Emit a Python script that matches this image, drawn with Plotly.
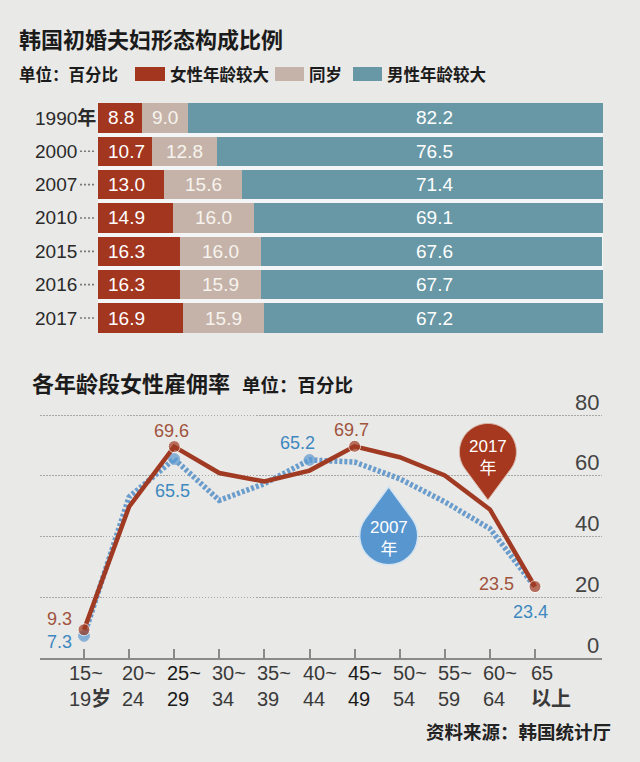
import math
import plotly.graph_objects as go

# ---------------- data ----------------
years = ["1990", "2000", "2007", "2010", "2015", "2016", "2017"]
wife_older = [8.8, 10.7, 13.0, 14.9, 16.3, 16.3, 16.9]
same_age = [9.0, 12.8, 15.6, 16.0, 16.0, 15.9, 15.9]
husband_older = [82.2, 76.5, 71.4, 69.1, 67.6, 67.7, 67.2]
bar_series = ["女性年龄较大", "同岁", "男性年龄较大"]

age_top = ["15~", "20~", "25~", "30~", "35~", "40~", "45~", "50~", "55~", "60~", "65"]
age_bottom = ["19<b>岁</b>", "24", "29", "34", "39", "44", "49", "54", "59", "64", "<b>以上</b>"]
rate_2017 = [9.3, 49.8, 69.6, 60.9, 58.1, 61.7, 69.7, 66.1, 60.1, 48.9, 23.5]
rate_2007 = [7.3, 53.0, 65.5, 51.9, 57.4, 65.2, 64.5, 59.0, 51.4, 42.6, 23.4]
y_ticks = [0, 20, 40, 60, 80]

# ---------------- styles ----------------
W, H = 640, 762
BG = "#e9e9e7"
RED = "#a3361f"
BEIGE = "#c5b3a9"
TEAL = "#6898a6"
LRED = "#a03a22"
LBLUE = "#6a9ccc"
MBLUE = "#5b9ad3"
TRED = "#a0533d"
TBLUE = "#3d88bf"
CJK = "Noto Sans CJK SC"
NUM = "Liberation Sans, Arial, Noto Sans CJK SC, sans-serif"

ROW_TOP, ROW_PITCH = 101.3, 33.34


def PX(x):
    return x / W


def PY(y):
    return 1 - y / H


def row_center(i):
    return ROW_TOP + ROW_PITCH * (i + 0.5)


fig = go.Figure()

# ---------------- stacked bars ----------------
for vals, col, name in zip([wife_older, same_age, husband_older], [RED, BEIGE, TEAL], bar_series):
    fig.add_trace(go.Bar(
        y=years, x=vals, orientation="h", name=name,
        marker=dict(color=col, line=dict(width=0)),
        xaxis="x", yaxis="y", showlegend=False, hoverinfo="x+name",
    ))

# ---------------- lines ----------------
idx = list(range(len(age_top)))
red_marks = [0, 2, 6, 10]
blue_marks = [0, 2, 5]
fig.add_trace(go.Scatter(
    x=idx, y=rate_2007, mode="lines+markers", name="2007年",
    line=dict(color=LBLUE, width=5.5, dash="3px,2px"),
    marker=dict(color=MBLUE, size=[11 if i in blue_marks else 0 for i in idx]),
    xaxis="x2", yaxis="y2", showlegend=False, cliponaxis=False,
))
fig.add_trace(go.Scatter(
    x=idx, y=rate_2017, mode="lines+markers", name="2017年",
    line=dict(color=LRED, width=4.5),
    marker=dict(color=LRED, size=[12 if i in red_marks else 0 for i in idx]),
    xaxis="x2", yaxis="y2", showlegend=False, cliponaxis=False,
))

ann = []
shapes = []

# titles and legend
ann.append(dict(x=PX(17), y=PY(38), xref="paper", yref="paper", xanchor="left", yanchor="middle",
                text="<b>韩国初婚夫妇形态构成比例</b>", showarrow=False,
                font=dict(family=CJK, size=22, color="#1b1b1b")))
ann.append(dict(x=PX(17), y=PY(74.5), xref="paper", yref="paper", xanchor="left", yanchor="middle",
                text="<b>单位：百分比</b>", showarrow=False,
                font=dict(family=CJK, size=16.5, color="#1b1b1b")))
for (sx0, sx1, tx), col, name in zip([(135, 165, 168), (275, 304, 307), (353, 382, 385)],
                                     [RED, BEIGE, TEAL], bar_series):
    shapes.append(dict(type="rect", xref="paper", yref="paper", x0=PX(sx0), x1=PX(sx1),
                       y0=PY(81), y1=PY(67), fillcolor=col, line=dict(width=0)))
    ann.append(dict(x=PX(tx), y=PY(74.5), xref="paper", yref="paper", xanchor="left", yanchor="middle",
                    text="<b>" + name + "</b>", showarrow=False,
                    font=dict(family=CJK, size=16.5, color="#1b1b1b")))

# white panel behind bars
shapes.append(dict(type="rect", xref="paper", yref="paper", x0=PX(98), x1=PX(603),
                   y0=PY(row_center(len(years) - 1) + 14.7), y1=PY(row_center(0) - 14.7),
                   fillcolor="#f3f5f6", line=dict(width=0), layer="below"))

# year labels and leader dots
for i, yr in enumerate(years):
    txt = yr + "<b>年</b>" if i == 0 else yr
    ann.append(dict(x=PX(33), y=PY(row_center(i)), xref="paper", yref="paper", xanchor="left",
                    yanchor="middle", text=txt, showarrow=False,
                    font=dict(family=NUM, size=19, color="#2a2a2a")))
    if i > 0:
        shapes.append(dict(type="line", xref="paper", yref="paper", x0=PX(80), x1=PX(96),
                           y0=PY(row_center(i)), y1=PY(row_center(i)),
                           line=dict(color="#7a7a7a", width=1.6, dash="2px,2px")))

# bar value labels
TEAL_LABEL_X = 66.7
for i, (yr, a, b, c) in enumerate(zip(years, wife_older, same_age, husband_older)):
    yc = PY(row_center(i))
    ann.append(dict(x=0, y=yc, xref="x", yref="paper", xanchor="left", yanchor="middle", xshift=8,
                    text=f"{a:.1f}", showarrow=False, font=dict(family=NUM, size=19, color="white")))
    ann.append(dict(x=a + b / 2, y=yc, xref="x", yref="paper", xanchor="center", yanchor="middle",
                    text=f"{b:.1f}", showarrow=False, font=dict(family=NUM, size=19, color="#f7f3ee")))
    ann.append(dict(x=TEAL_LABEL_X, y=yc, xref="x", yref="paper", xanchor="center", yanchor="middle",
                    text=f"{c:.1f}", showarrow=False, font=dict(family=NUM, size=19, color="white")))

# bottom chart title
ann.append(dict(x=PX(30), y=PY(382), xref="paper", yref="paper", xanchor="left", yanchor="middle",
                text="<b>各年龄段女性雇佣率</b>", showarrow=False,
                font=dict(family=CJK, size=22, color="#1b1b1b")))
ann.append(dict(x=PX(240), y=PY(384.5), xref="paper", yref="paper", xanchor="left", yanchor="middle",
                text="<b>单位：百分比</b>", showarrow=False,
                font=dict(family=CJK, size=18.5, color="#1b1b1b")))

# x tick labels (left aligned blocks)
for i, (t, b) in enumerate(zip(age_top, age_bottom)):
    shift = -17 if i == 0 else (-6 if i == len(age_top) - 1 else -9)
    dark = i in (2, 6)
    ann.append(dict(x=i, y=PY(660), xref="x2", yref="paper", xanchor="left", yanchor="top",
                    xshift=shift, align="left", text=t + "<br>" + b, showarrow=False,
                    font=dict(family=NUM, size=20, color="#1a1a1a" if dark else "#3a3a3a")))

# y tick labels (right, above gridlines)
for v in y_ticks:
    ann.append(dict(x=PX(601), y=v, xref="paper", yref="y2", xanchor="right", yanchor="middle",
                    yshift=13, text=str(v), showarrow=False,
                    font=dict(family=NUM, size=22, color="#444444")))


# value labels
def vlabel(i, series, color, dx, dy):
    ann.append(dict(x=i, y=series[i], xref="x2", yref="y2", xanchor="center", yanchor="middle",
                    xshift=dx, yshift=dy, text=f"{series[i]:.1f}", showarrow=False,
                    font=dict(family=NUM, size=18, color=color)))


vlabel(2, rate_2017, TRED, -3, 16)
vlabel(6, rate_2017, TRED, -3.5, 16)
vlabel(0, rate_2017, TRED, -24.5, 11)
vlabel(10, rate_2017, TRED, -39, 3)
vlabel(2, rate_2007, TBLUE, -1.5, -31.5)
vlabel(5, rate_2007, TBLUE, -12, 17)
vlabel(0, rate_2007, TBLUE, -24.5, -6)
vlabel(10, rate_2007, TBLUE, -4.5, -25.5)


# callout pins
def teardrop(r, d, s, ox=0.0, oy=0.0):
    """Tip at (ox, oy) in pixel offsets; circle centre at distance d above (s=1) or below (s=-1)."""
    a = math.degrees(math.asin(r / d))
    cx, cy = ox, oy + s * d
    start = 180 + s * a
    sweep = -s * (180 + 2 * a)
    n = 6
    dth = sweep / n
    k = 4 / 3 * math.tan(math.radians(dth) / 4)
    th1 = math.radians(start)
    p0 = (cx + r * math.cos(th1), cy + r * math.sin(th1))
    path = f"M {ox:.2f},{oy:.2f} L {p0[0]:.2f},{p0[1]:.2f}"
    for j in range(n):
        t1 = math.radians(start + j * dth)
        t2 = math.radians(start + (j + 1) * dth)
        P0 = (cx + r * math.cos(t1), cy + r * math.sin(t1))
        P3 = (cx + r * math.cos(t2), cy + r * math.sin(t2))
        P1 = (P0[0] - k * r * math.sin(t1), P0[1] + k * r * math.cos(t1))
        P2 = (P3[0] + k * r * math.sin(t2), P3[1] - k * r * math.cos(t2))
        path += f" C {P1[0]:.2f},{P1[1]:.2f} {P2[0]:.2f},{P2[1]:.2f} {P3[0]:.2f},{P3[1]:.2f}"
    path += f" L {ox:.2f},{oy:.2f} Z"
    return path


# 2017 pin: tip just above the 60-64 point
shapes.append(dict(type="path", xref="x2", yref="y2", xsizemode="pixel", ysizemode="pixel",
                   xanchor=9, yanchor=rate_2017[9], path=teardrop(28.5, 48, 1, -2, 9.5),
                   fillcolor="#a5381e", line=dict(color="#d9b8ab", width=1)))
ann.append(dict(x=9, y=rate_2017[9], xref="x2", yref="y2", xanchor="center", yanchor="middle",
                xshift=-1.5, yshift=52, text="2017<br>年", showarrow=False,
                font=dict(family=NUM, size=17, color="white")))
# 2007 drop: tip just below the 2007 line near 50-54
shapes.append(dict(type="path", xref="x2", yref="y2", xsizemode="pixel", ysizemode="pixel",
                   xanchor=7, yanchor=rate_2007[7], path=teardrop(29, 49, -1, -11, -8),
                   fillcolor="#5896cf", line=dict(color="#d3e3f1", width=1.5)))
ann.append(dict(x=7, y=rate_2007[7], xref="x2", yref="y2", xanchor="center", yanchor="middle",
                xshift=-11, yshift=-59.5, text="2007<br>年", showarrow=False,
                font=dict(family=NUM, size=17, color="white")))

# source
ann.append(dict(x=PX(613), y=PY(731), xref="paper", yref="paper", xanchor="right", yanchor="middle",
                text="<b>资料来源：韩国统计厅</b>", showarrow=False,
                font=dict(family=CJK, size=18.5, color="#222222")))

X2_LEFT, X2_RIGHT, X2_ZERO, X2_STEP = 40, 602, 84, 45.1
Y2_ZERO, Y2_SCALE, Y2_MAX = 658, 3.0375, 81

fig.update_layout(
    width=W, height=H, autosize=False,
    margin=dict(l=0, r=0, t=0, b=0),
    paper_bgcolor=BG, plot_bgcolor="rgba(0,0,0,0)",
    barmode="stack", bargap=0.12,
    showlegend=False,
    xaxis=dict(domain=[PX(98), PX(603)], range=[0, 100], visible=False, fixedrange=True),
    yaxis=dict(domain=[PY(ROW_TOP + ROW_PITCH * len(years)), PY(ROW_TOP)],
               range=[len(years) - 0.5, -0.5], type="category",
               visible=False, fixedrange=True),
    xaxis2=dict(domain=[PX(X2_LEFT), PX(X2_RIGHT)],
                range=[-(X2_ZERO - X2_LEFT) / X2_STEP, (X2_RIGHT - X2_ZERO) / X2_STEP],
                anchor="y2", showline=True, linecolor="#8a8a8a", linewidth=2,
                ticks="inside", ticklen=9, tickwidth=1.5, tickcolor="#8a8a8a",
                tickvals=idx, showticklabels=False, showgrid=False, zeroline=False),
    yaxis2=dict(domain=[PY(Y2_ZERO), PY(Y2_ZERO - Y2_MAX * Y2_SCALE)], range=[0, Y2_MAX], anchor="x2",
                tickvals=y_ticks[1:], showticklabels=False, showgrid=True,
                gridcolor="#a8a8a8", gridwidth=1.2, griddash="1.5px,1.5px",
                zeroline=False, showline=False),
    annotations=ann, shapes=shapes,
    font=dict(family=NUM),
)

fig.write_html(
    "out.html",
    config={"displayModeBar": False},
    post_script="document.body.style.margin='0';document.body.style.padding='0';"
                "document.body.style.background='" + BG + "';",
)
